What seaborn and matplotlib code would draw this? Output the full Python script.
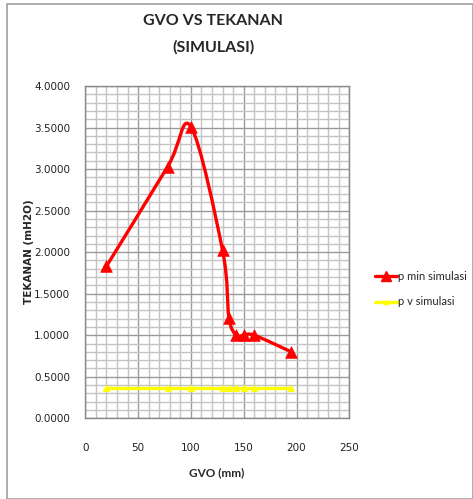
import matplotlib
matplotlib.use("Agg")
import matplotlib.pyplot as plt
import numpy as np
import pandas as pd
import seaborn as sns
from matplotlib.path import Path
from matplotlib.patches import PathPatch, Rectangle
from matplotlib.lines import Line2D
from matplotlib.ticker import MultipleLocator

# data
gvo = [20, 78, 100, 130, 136, 143, 150, 160, 195]
p_min = [1.83, 3.03, 3.51, 2.02, 1.21, 1.00, 1.00, 1.00, 0.80]
p_v = [0.36, 0.36, 0.36, 0.36, 0.36, 0.36, 0.36, 0.36, 0.36]
x_ticks = [0, 50, 100, 150, 200, 250]
y_ticks = [0.0, 0.5, 1.0, 1.5, 2.0, 2.5, 3.0, 3.5, 4.0]

RED = "#FF0000"
YELLOW = "#FFFF00"
HUMANIST = ["Lato", "DejaVu Sans"]

df = pd.DataFrame({"gvo": gvo, "p_min": p_min, "p_v": p_v})

sns.set_style("white")
plt.rcParams["font.family"] = ["DejaVu Sans"]


def smooth_path(xs, ys):
    """Excel-like smoothed line: cubic bezier through each point."""
    pts = np.column_stack([xs, ys]).astype(float)
    padded = np.vstack([pts[0], pts, pts[-1]])
    verts = [pts[0]]
    codes = [Path.MOVETO]
    for i in range(len(pts) - 1):
        p0, p1, p2, p3 = padded[i], padded[i + 1], padded[i + 2], padded[i + 3]
        c1 = p1 + (p2 - p0) / 6.0
        c2 = p2 - (p3 - p1) / 6.0
        verts += [c1, c2, p2]
        codes += [Path.CURVE4] * 3
    return Path(verts, codes)


fig = plt.figure(figsize=(4.73, 4.99), dpi=100)
ax = fig.add_axes([85.3 / 473, 1 - 418.3 / 499, 264 / 473, 332.3 / 499])

# grid
ax.set_xlim(0, 250)
ax.set_ylim(0, 4)
ax.xaxis.set_major_locator(MultipleLocator(50))
ax.xaxis.set_minor_locator(MultipleLocator(10))
ax.yaxis.set_major_locator(MultipleLocator(0.5))
ax.yaxis.set_minor_locator(MultipleLocator(0.1))
ax.grid(which="minor", color="#C4C4C4", linewidth=1.0)
ax.grid(which="major", color="#9A9A9A", linewidth=1.0)
ax.set_axisbelow(True)

# yellow series
sns.lineplot(data=df, x="gvo", y="p_v", ax=ax, color=YELLOW, linewidth=2.4,
             marker="^", markersize=4, markeredgecolor=YELLOW, legend=False, zorder=3)

# red series: smoothed line + triangle markers
ax.add_patch(PathPatch(smooth_path(gvo, p_min), facecolor="none", edgecolor=RED,
                       linewidth=2.4, zorder=4, capstyle="round", joinstyle="round"))
sns.scatterplot(data=df, x="gvo", y="p_min", ax=ax, color=RED, marker="^", s=70,
                edgecolor=RED, linewidth=0.5, zorder=5, legend=False)

ax.set_xticks(x_ticks)
ax.set_yticks(y_ticks)
ax.set_xticklabels([str(t) for t in x_ticks])
ax.set_yticklabels([f"{t:.4f}" for t in y_ticks])
ax.tick_params(axis="both", which="major", length=4, color="#888888", direction="out",
               labelsize=7.5, labelcolor="#222222")
ax.tick_params(axis="x", which="major", pad=14)
ax.tick_params(axis="y", which="major", pad=7)
ax.tick_params(which="minor", length=0)
for s in ax.spines.values():
    s.set_color("#888888")
    s.set_linewidth(1.0)
ax.set_xlabel("")
ax.set_ylabel("")

# texts
fig.text(213 / 473, 1 - 21 / 499, "GVO VS TEKANAN", ha="center", va="center",
         fontsize=11.5, fontweight="bold", family=HUMANIST)
fig.text(213 / 473, 1 - 47 / 499, "(SIMULASI)", ha="center", va="center",
         fontsize=11.5, fontweight="bold", family=HUMANIST)
fig.text(217 / 473, 1 - 473 / 499, "GVO (mm)", ha="center", va="center",
         fontsize=8.5, fontweight="bold", family=HUMANIST)
fig.text(29 / 473, 1 - 252 / 499, "TEKANAN (mH2O)", ha="center", va="center",
         rotation=90, fontsize=7.5, fontweight="bold")

# legend
handles = [
    Line2D([], [], color=RED, linewidth=2.4, marker="^", markersize=7),
    Line2D([], [], color=YELLOW, linewidth=2.4, marker="^", markersize=3),
]
leg = fig.legend(handles, ["p min simulasi", "p v simulasi"], loc="upper left",
                 bbox_to_anchor=(365 / 473, 1 - 261 / 499), frameon=False,
                 handlelength=2.0, handletextpad=0.1, labelspacing=1.3,
                 prop={"family": HUMANIST, "size": 8})

# chart border
fig.patches.append(Rectangle((7 / 473, 0.0), 1 - 7 / 473, 1 - 4 / 499,
                             transform=fig.transFigure, fill=False,
                             edgecolor="#A0A0A0", linewidth=1.2))

fig.savefig("out.png", dpi=100)
